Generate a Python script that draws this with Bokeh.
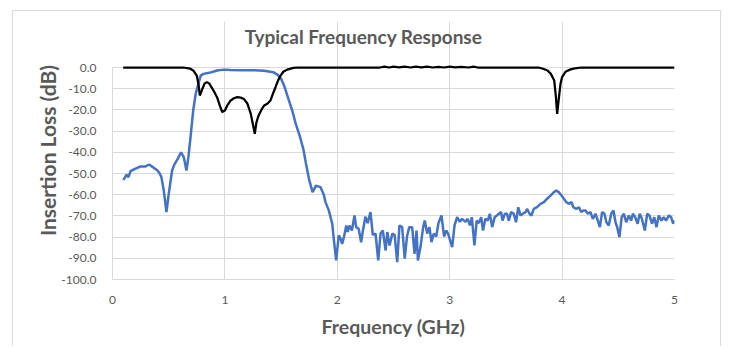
from bokeh.plotting import figure
from bokeh.models import Range1d, FixedTicker, NumeralTickFormatter, Label
from bokeh.embed import file_html
from bokeh.resources import INLINE

# ---- data ----
blue_freq = [0.095, 0.11, 0.125, 0.135, 0.145, 0.16, 0.2, 0.249, 0.29, 0.31, 0.33, 0.345, 0.36, 0.40, 0.42,
             0.435, 0.456, 0.48, 0.50, 0.53, 0.55, 0.58, 0.61, 0.635, 0.658, 0.675, 0.694, 0.718, 0.74, 0.76,
             0.785, 0.81, 0.87, 0.93, 0.99, 1.05, 1.15, 1.25, 1.35, 1.43, 1.47, 1.50, 1.53, 1.57, 1.60, 1.63,
             1.67, 1.70, 1.72, 1.75, 1.78, 1.81, 1.85, 1.88, 1.895, 1.925, 1.955, 1.97, 1.99,
             2.013, 2.03, 2.043, 2.06, 2.08, 2.093, 2.108, 2.13, 2.153, 2.168, 2.19, 2.212, 2.228, 2.25, 2.27,
             2.295, 2.316, 2.34, 2.364, 2.385, 2.405, 2.43, 2.445, 2.465, 2.49, 2.51, 2.533, 2.553, 2.577, 2.60,
             2.62, 2.64, 2.666, 2.687, 2.705, 2.717, 2.74, 2.764, 2.778, 2.80, 2.82, 2.838, 2.858, 2.88, 2.90,
             2.927, 2.95, 2.97, 2.985, 3.022, 3.043, 3.066, 3.09, 3.11, 3.14, 3.16, 3.18, 3.197, 3.22, 3.24,
             3.258, 3.28, 3.296, 3.317, 3.338, 3.357, 3.378, 3.40, 3.42, 3.437, 3.457, 3.47, 3.49, 3.51, 3.526,
             3.546, 3.57, 3.59, 3.61, 3.63, 3.65, 3.674, 3.69, 3.71, 3.727, 3.748, 3.777, 3.808, 3.838, 3.867,
             3.897, 3.927, 3.947, 3.97, 3.995, 4.016, 4.037, 4.06, 4.084, 4.10, 4.126, 4.15, 4.17, 4.19, 4.208,
             4.23, 4.253, 4.273, 4.297, 4.318, 4.336, 4.356, 4.377, 4.394, 4.415, 4.437, 4.457, 4.475, 4.49,
             4.51, 4.53, 4.55, 4.57, 4.594, 4.614, 4.63, 4.65, 4.672, 4.69, 4.71, 4.736, 4.757, 4.777, 4.80,
             4.82, 4.84, 4.86, 4.884, 4.904, 4.925, 4.95, 4.97, 4.988, 5.0]
blue_db = [-53.0, -52.0, -50.5, -51.5, -51.4, -48.9, -47.8, -46.7, -46.7, -46.2, -45.8, -46.5, -47.0, -48.6, -50.0,
           -51.7, -58.0, -68.2, -59.7, -48.6, -45.8, -43.1, -40.0, -42.4, -48.6, -42.4, -32.9, -20.3, -12.4, -8.5,
           -3.8, -3.0, -2.4, -1.4, -1.0, -1.2, -1.3, -1.3, -1.5, -2.2, -3.5, -5.3, -9.0, -15.6, -20.5, -26.5,
           -33.0, -39.0, -45.0, -53.0, -58.8, -55.7, -56.4, -60.0, -63.5, -67.5, -73.7, -81.6, -91.0,
           -79.2, -80.8, -83.2, -79.7, -74.5, -77.6, -74.5, -76.9, -69.8, -75.3, -76.1, -82.4, -76.9, -70.4, -73.4,
           -68.2, -79.0, -78.3, -91.0, -78.3, -76.9, -86.3, -77.6, -84.0, -78.3, -79.0, -91.8, -74.5, -75.3, -90.2,
           -79.7, -75.3, -75.3, -87.9, -76.9, -91.0, -84.7, -75.3, -72.2, -78.3, -75.3, -82.4, -78.3, -79.7, -73.4,
           -69.8, -79.7, -76.9, -78.3, -84.7, -74.5, -70.6, -72.8, -71.4, -72.8, -71.4, -74.5, -70.6, -83.9, -72.2,
           -73.4, -70.6, -76.9, -71.4, -72.2, -69.0, -75.3, -70.6, -69.8, -69.0, -68.2, -72.2, -69.0, -69.0, -72.2,
           -68.2, -69.0, -73.0, -65.9, -69.8, -69.0, -68.2, -66.7, -69.0, -69.8, -66.7, -65.9, -64.3, -63.5, -61.9,
           -60.4, -58.8, -58.0, -58.8, -60.4, -61.9, -63.5, -64.3, -63.5, -65.9, -66.7, -65.9, -68.2, -67.4, -67.4,
           -69.0, -68.2, -71.4, -69.0, -72.2, -75.3, -68.2, -69.0, -73.0, -74.5, -69.0, -67.4, -73.0, -75.3,
           -80.0, -70.6, -69.0, -73.0, -69.8, -72.2, -69.0, -70.6, -73.7, -69.0, -71.4, -76.9, -69.0, -69.8, -73.7,
           -70.6, -75.3, -69.8, -72.2, -70.6, -72.2, -69.8, -70.6, -73.7, -72.2]

black_freq = [0.095, 0.63, 0.69, 0.72, 0.75, 0.765, 0.777, 0.79, 0.80, 0.82, 0.84, 0.86, 0.88, 0.90, 0.93,
              0.955, 0.976, 1.0, 1.02, 1.05, 1.08, 1.11, 1.14, 1.17, 1.20, 1.23, 1.25, 1.266, 1.28, 1.30,
              1.33, 1.35, 1.38, 1.405, 1.43, 1.45, 1.47, 1.495, 1.52, 1.554, 1.61, 1.65, 2.38, 2.42, 2.46,
              2.50, 2.55, 2.60, 2.65, 2.70, 2.75, 2.80, 2.85, 2.90, 2.95, 3.00, 3.05, 3.10, 3.17, 3.21, 3.25,
              3.30, 3.79, 3.83, 3.87, 3.90, 3.93, 3.945, 3.956, 3.97, 3.986, 4.0, 4.03, 4.07, 4.10, 4.17, 5.0]
black_db = [0.0, 0.0, -0.5, -1.5, -3.8, -8.0, -13.2, -11.5, -10.0, -7.5, -6.9, -7.5, -9.3, -11.0, -14.0,
            -18.0, -21.0, -20.3, -18.0, -15.6, -14.5, -14.0, -14.2, -14.9, -17.0, -21.8, -27.0, -31.3, -26.0, -22.6,
            -19.5, -17.9, -17.0, -15.6, -12.0, -9.3, -6.5, -3.8, -2.0, -1.0, -0.2, 0.0, 0.0, 0.4, 0.0,
            0.4, 0.1, 0.4, 0.0, 0.4, 0.1, 0.4, 0.0, 0.3, 0.0, 0.4, 0.1, 0.3, 0.0, 0.4, 0.0,
            0.0, 0.0, -0.6, -1.4, -3.0, -6.1, -14.0, -21.9, -15.0, -7.7, -4.5, -2.0, -1.0, -0.5, 0.0, 0.0]

y_ticks = [0, -10, -20, -30, -40, -50, -60, -70, -80, -90, -100]
x_ticks = [0, 1, 2, 3, 4, 5]
title_text = "Typical Frequency Response"

TXT = "#595959"
GRID = "#d9d9d9"
FONT = "Lato"

# the frame reaches up into the title area so the title label is not clipped;
# grids and the y axis are bounded to the 0 .. -100 data band
Y_TOP = 21.7
p = figure(width=709, height=336, output_backend="svg", toolbar_location=None,
           x_range=Range1d(0, 5), y_range=Range1d(-100, Y_TOP),
           min_border_left=99, min_border_right=48, min_border_top=10, min_border_bottom=68)
p.styles = {"margin-left": "12px", "margin-top": "10px",
            "border-top": "1px solid #d9d9d9", "border-left": "1px solid #d9d9d9",
            "border-right": "1px solid #d9d9d9"}
p.outline_line_color = None
p.background_fill_color = "white"
p.border_fill_color = "white"

# chart title, centred on the whole chart box (screen units are relative to the plot frame)
p.add_layout(Label(x=251, y=243, x_units="screen", y_units="screen", text=title_text,
                   text_align="center", text_baseline="middle", text_font=FONT,
                   text_font_size="19px", text_font_style="bold", text_color=TXT))

p.xaxis.ticker = FixedTicker(ticks=x_ticks)
p.yaxis.ticker = FixedTicker(ticks=y_ticks)
p.yaxis.formatter = NumeralTickFormatter(format="0.0")
p.yaxis.bounds = (-100, 0)

for ax in (p.xaxis, p.yaxis):
    ax.axis_line_color = GRID
    ax.major_tick_line_color = None
    ax.minor_tick_line_color = None
    ax.major_label_text_font = FONT
    ax.major_label_text_font_size = "12px"
    ax.major_label_text_color = TXT
    ax.axis_label_text_font = FONT
    ax.axis_label_text_font_style = "bold"
    ax.axis_label_text_color = TXT
    ax.major_label_standoff = 10

p.xaxis.axis_label = "Frequency (GHz)"
p.yaxis.axis_label = "Insertion Loss (dB)"
p.xaxis.axis_label_text_font_size = "19.5px"
p.yaxis.axis_label_text_font_size = "21px"
p.xaxis.axis_label_standoff = 8
p.yaxis.axis_label_standoff = -2

p.xgrid.ticker = FixedTicker(ticks=x_ticks)
p.ygrid.ticker = FixedTicker(ticks=y_ticks)
p.xgrid.bounds = (-100, 0)
p.grid.grid_line_color = GRID
p.grid.grid_line_width = 1

p.line(blue_freq, blue_db, line_color="#4472C4", line_width=2.5)
p.line(black_freq, black_db, line_color="#000000", line_width=2.25)

open("out.html", "w").write(file_html(p, INLINE))
